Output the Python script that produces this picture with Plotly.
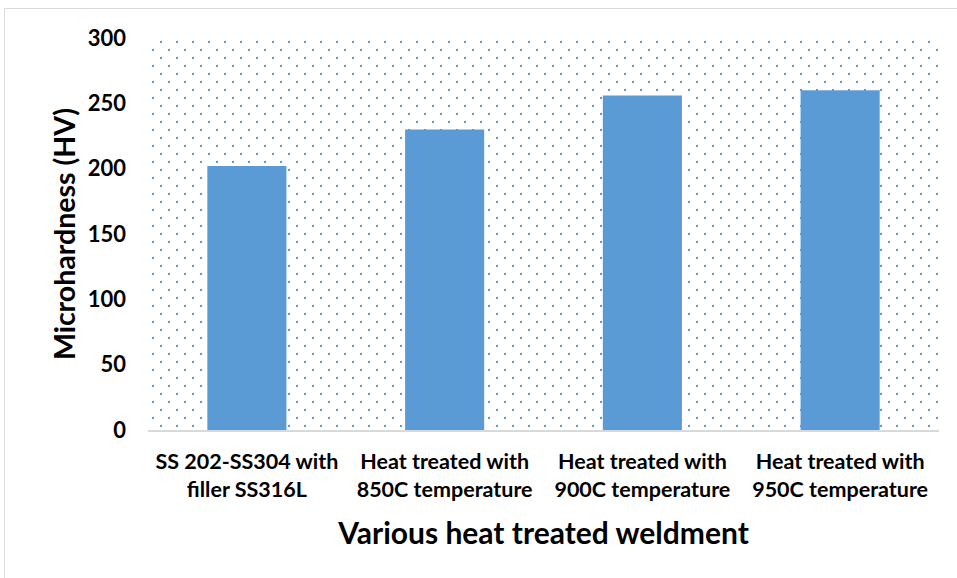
import base64
import plotly.graph_objects as go

# Microhardness of the weldment before and after heat treatment
categories = [
    "SS 202-SS304 with<br>filler SS316L",
    "Heat treated with<br>850C temperature",
    "Heat treated with<br>900C temperature",
    "Heat treated with<br>950C temperature",
]
microhardness = [202, 230, 256, 260]
y_ticks = [0, 50, 100, 150, 200, 250, 300]

BLUE = "#5b9bd5"
FONT = "Lato"

# Figure geometry (pixels)
W, H = 957, 578
ML, MR, MT, MB = 148, 18, 38, 148
PW, PH = W - ML - MR, H - MT - MB

# Staggered dotted fill for the plotting area
dots_svg = (
    f'<svg xmlns="http://www.w3.org/2000/svg" width="{PW}" height="{PH}" '
    f'viewBox="0 0 {PW} {PH}" preserveAspectRatio="none">'
    '<defs><pattern id="p" width="16" height="16" patternUnits="userSpaceOnUse">'
    f'<rect x="12" y="3" width="2" height="2" fill="{BLUE}"/>'
    f'<rect x="4" y="11" width="2" height="2" fill="{BLUE}"/>'
    '</pattern></defs>'
    f'<rect width="{PW}" height="{PH}" fill="url(#p)"/></svg>'
)
dots_uri = "data:image/svg+xml;base64," + base64.b64encode(dots_svg.encode()).decode()

fig = go.Figure(
    go.Bar(
        x=categories,
        y=microhardness,
        width=0.4,
        marker=dict(color=BLUE, line=dict(width=0)),
        hoverinfo="x+y",
    )
)

fig.update_layout(
    width=W,
    height=H,
    margin=dict(l=ML, r=MR, t=MT, b=MB, autoexpand=False),
    paper_bgcolor="white",
    plot_bgcolor="rgba(0,0,0,0)",
    showlegend=False,
    font=dict(family=FONT, color="#000000", size=21),
    xaxis=dict(
        showline=True,
        linecolor="#d9d9d9",
        linewidth=1.5,
        showgrid=False,
        ticks="",
        tickfont=dict(family=FONT, size=21.5, weight="bold"),
        ticklabelstandoff=11,
        title=dict(
            text="Various heat treated weldment",
            font=dict(family=FONT, size=30, weight="bold"),
            standoff=22,
        ),
        automargin=False,
    ),
    yaxis=dict(
        range=[0, 300],
        tickvals=y_ticks,
        showgrid=False,
        zeroline=False,
        showline=False,
        ticks="",
        tickfont=dict(family=FONT, size=22, weight="bold"),
        ticklabelstandoff=21,
        title=dict(
            text="Microhardness (HV)",
            font=dict(family=FONT, size=28.5, weight="bold"),
            standoff=3,
        ),
        automargin=False,
    ),
    images=[
        dict(
            source=dots_uri,
            xref="paper",
            yref="paper",
            x=0,
            y=1,
            sizex=1,
            sizey=1,
            xanchor="left",
            yanchor="top",
            sizing="stretch",
            layer="below",
        )
    ],
    shapes=[
        # chart frame
        dict(
            type="rect",
            xref="paper",
            yref="paper",
            x0=(4.5 - ML) / PW,
            x1=(W + 10 - ML) / PW,
            y0=-(H + 10 - (MT + PH)) / PH,
            y1=(MT + PH - 8.5) / PH,
            line=dict(color="#d9d9d9", width=1),
            fillcolor="rgba(0,0,0,0)",
            layer="below",
        )
    ],
)

fig.write_html("out.html")
